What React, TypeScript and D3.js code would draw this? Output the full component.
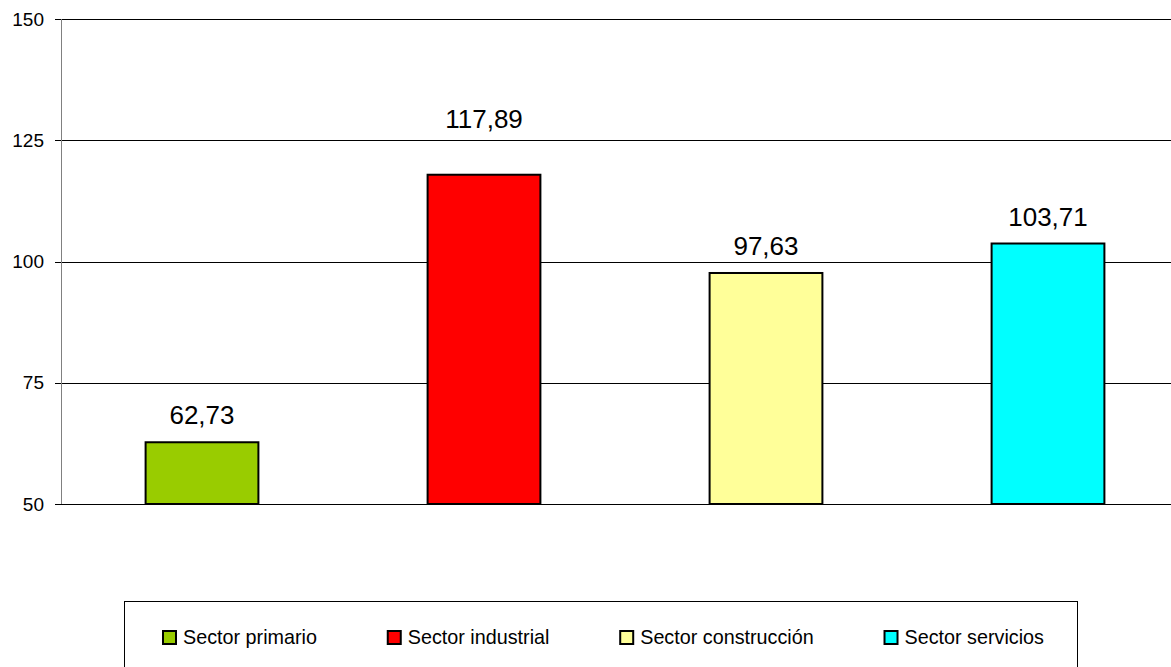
import { useRef, useEffect } from 'react'
import * as d3 from 'd3'

const categories = ['Sector primario', 'Sector industrial', 'Sector construcción', 'Sector servicios']
const values = [62.73, 117.89, 97.63, 103.71]
const colors = ['#99CC00', '#FF0000', '#FFFF99', '#00FFFF']
const yTicks = [50, 75, 100, 125, 150]

const W = 1171
const H = 667

const App = () => {
  const svgRef = useRef<SVGSVGElement>(null)

  useEffect(() => {
    if (!svgRef.current) return
    const svg = d3.select(svgRef.current)
    svg.selectAll('*').remove()

    const left = 61
    const right = 1189
    const top = 19
    const bottom = 504

    const x = d3.scaleBand<string>()
      .domain(categories)
      .range([left, right])
      .paddingInner(0.6)
      .paddingOuter(0.3)

    const y = d3.scaleLinear().domain([50, 150]).range([bottom, top])

    // gridlines
    svg.append('g')
      .selectAll('line')
      .data(yTicks)
      .join('line')
      .attr('x1', left - 6)
      .attr('x2', W)
      .attr('y1', d => Math.round(y(d)) + 0.5)
      .attr('y2', d => Math.round(y(d)) + 0.5)
      .attr('stroke', '#000')
      .attr('stroke-width', 1)

    // y axis line
    svg.append('line')
      .attr('x1', left + 0.5).attr('x2', left + 0.5)
      .attr('y1', top).attr('y2', bottom)
      .attr('stroke', '#808080')

    // tick labels
    svg.append('g')
      .selectAll('text')
      .data(yTicks)
      .join('text')
      .attr('x', 44)
      .attr('y', d => y(d))
      .attr('dy', '0.35em')
      .attr('text-anchor', 'end')
      .attr('font-family', 'Liberation Sans, Arial, sans-serif')
      .attr('font-size', '19px')
      .attr('fill', '#000')
      .text(d => d)

    // bars
    svg.append('g')
      .selectAll('rect')
      .data(values)
      .join('rect')
      .attr('x', (_, i) => x(categories[i])!)
      .attr('y', d => y(d))
      .attr('width', x.bandwidth())
      .attr('height', d => y(50) - y(d))
      .attr('fill', (_, i) => colors[i])
      .attr('stroke', '#000')
      .attr('stroke-width', 2)

    // value labels: sit above the bar, hop over a gridline they would sit on
    const labelBaseline = (v: number) => {
      const base = y(v) - 18
      const hit = yTicks.map(t => y(t)).find(g => g > base - 21 && g < base + 3)
      return hit !== undefined ? hit - 12 : base
    }

    svg.append('g')
      .selectAll('text')
      .data(values)
      .join('text')
      .attr('x', (_, i) => x(categories[i])! + x.bandwidth() / 2)
      .attr('y', d => labelBaseline(d))
      .attr('text-anchor', 'middle')
      .attr('font-family', 'Liberation Sans, Arial, sans-serif')
      .attr('font-size', '26px')
      .attr('fill', '#000')
      .text(d => d.toFixed(2).replace('.', ','))

    // legend
    const lx = 124
    const ly = 601
    const lw = 953
    svg.append('rect')
      .attr('x', lx + 0.5).attr('y', ly + 0.5)
      .attr('width', lw).attr('height', 120)
      .attr('fill', '#fff')
      .attr('stroke', '#000')

    const items = svg.append('g')
      .selectAll('g')
      .data(categories)
      .join('g')

    items.append('rect')
      .attr('width', 13).attr('height', 13)
      .attr('x', 1)
      .attr('y', 631)
      .attr('fill', (_, i) => colors[i])
      .attr('stroke', '#000')
      .attr('stroke-width', 2)

    const labels = items.append('text')
      .attr('font-family', 'Liberation Sans Narrow, Arial Narrow, Liberation Sans, sans-serif')
      .attr('font-size', '20px')
      .attr('fill', '#000')
      .text(d => d)

    // squeeze the text to mimic a narrow face
    const raw = labels.nodes().map(n => (n as SVGTextElement).getComputedTextLength())
    const k = 134 / raw[0]
    labels.attr('transform', `translate(21,644) scale(${k},1)`)

    const widths = raw.map(r => 21 + r * k)
    const total = d3.sum(widths)
    const gap = (lw - 38 - 33 - total) / (categories.length - 1)
    let cx = lx + 38
    items.each(function (_, i) {
      d3.select(this).attr('transform', `translate(${cx},0)`)
      cx += widths[i] + gap
    })
  }, [])

  return (
    <svg
      ref={svgRef}
      width={W}
      height={H}
      style={{ position: 'absolute', left: 0, top: 0, background: '#fff' }}
    />
  )
}

export default App
